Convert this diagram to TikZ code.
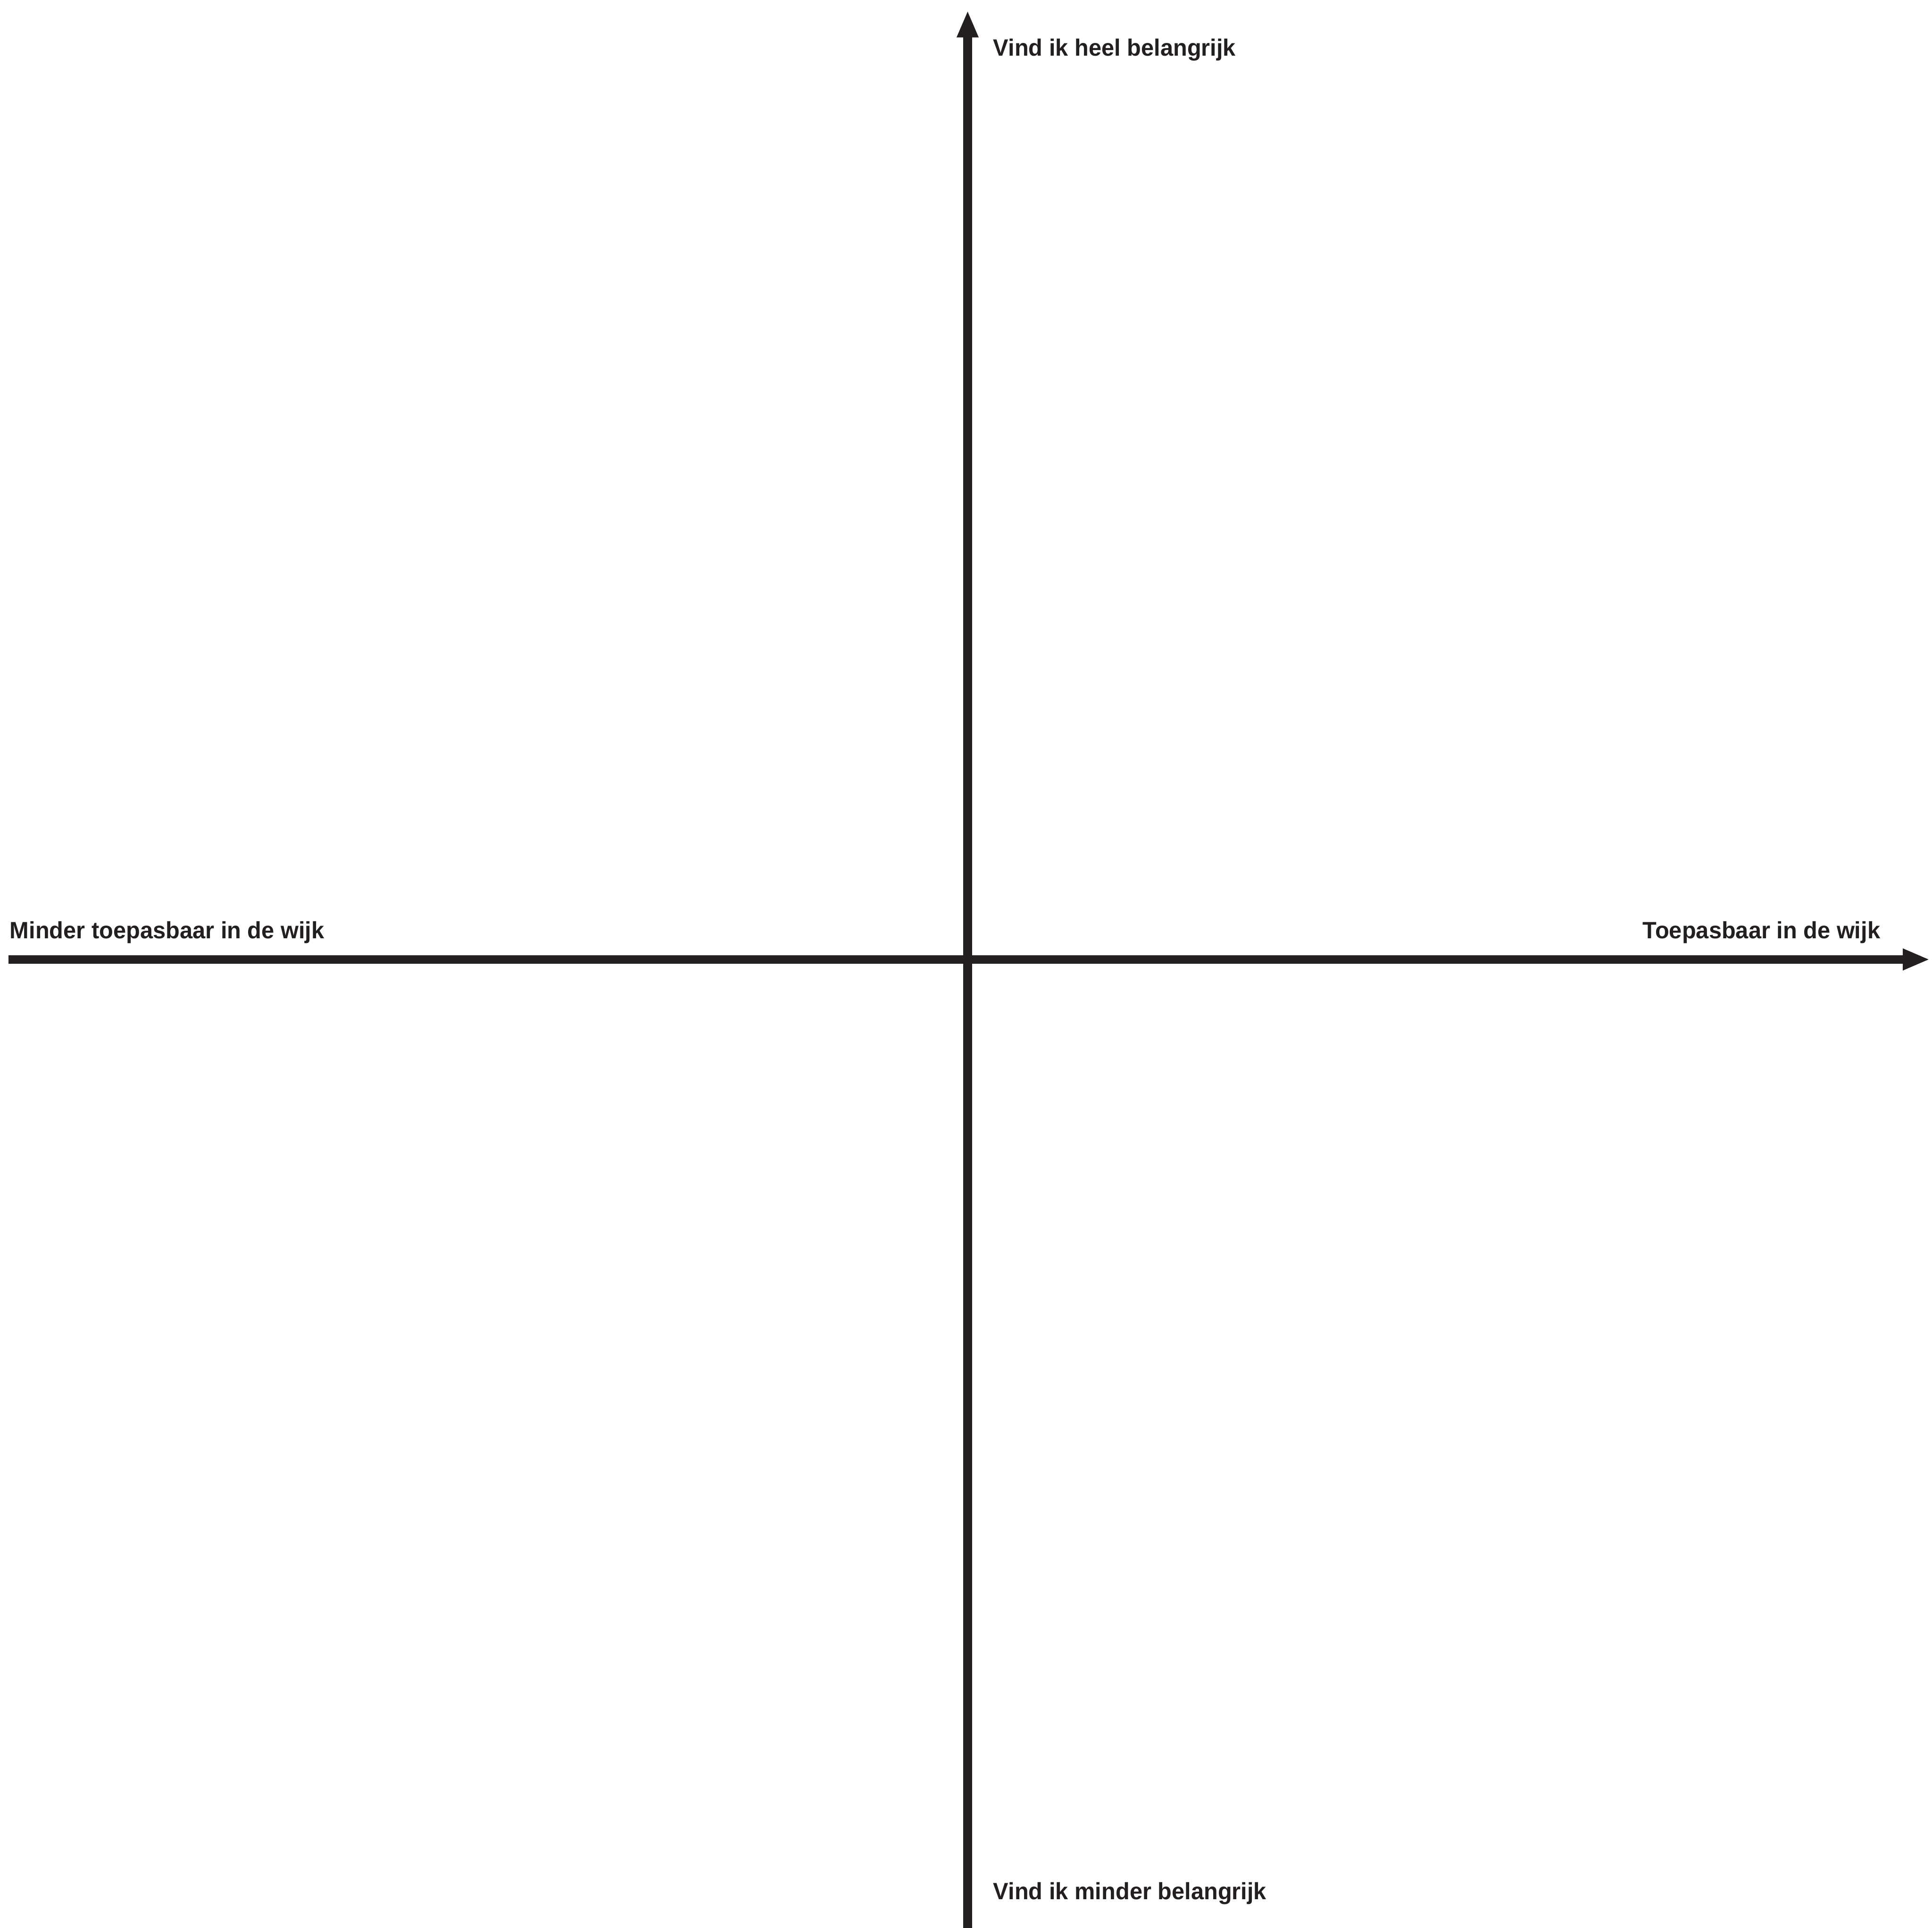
\documentclass[tikz,border=0pt]{standalone}
\usepackage{fontspec}
\setmainfont{Liberation Sans}[FakeStretch=0.975]
\usetikzlibrary{arrows.meta}
\definecolor{inkt}{HTML}{231F20}
\tikzset{
  as/.style={draw=inkt,line width=2.54pt,-{Triangle[length=7.95pt,width=5.85pt]}},
  tekst/.style={inner sep=0pt,text=inkt,font=\fontsize{6.95}{8}\selectfont\bfseries},
}

\begin{document}
\begin{tikzpicture}
  \useasboundingbox (-10.017,-10.025) rectangle (9.983,9.931);
  \coordinate (links) at (-9.929,0);
  \coordinate (rechts) at (9.960,0);
  \coordinate (onder) at (0,-10.025);
  \coordinate (boven) at (0,9.823);
  \draw[as] (links) -- (rechts);
  \draw[as] (onder) -- (boven);
  \node[tekst,anchor=base west] (belangrijk) at (0.259,9.352) {Vind ik heel belangrijk};
  \node[tekst,anchor=base west] (minderbel) at (0.259,-9.729) {Vind ik minder belangrijk};
  \node[tekst,anchor=base east] (toepasbaar) at (9.454,0.217) {Toepasbaar in de wijk};
  \node[tekst,anchor=base west] (mindertoep) at (-9.922,0.217) {Minder toepasbaar in de wijk};
\end{tikzpicture}
\end{document}
